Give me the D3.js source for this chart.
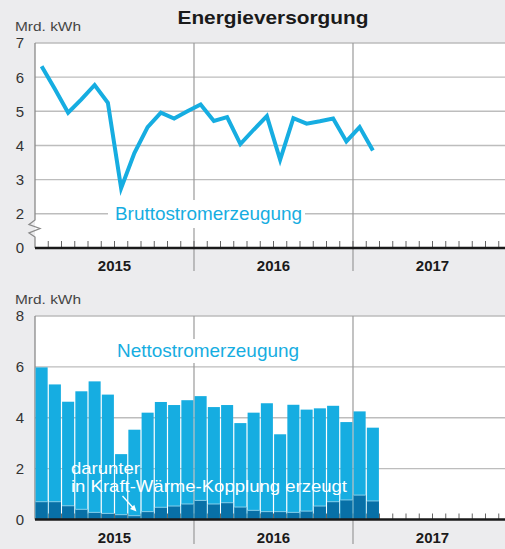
<!DOCTYPE html>
<html>
<head>
<meta charset="utf-8">
<script src="https://cdn.jsdelivr.net/npm/d3@7"></script>
<style>
  html, body { margin: 0; padding: 0; background: #ececee; }
  svg { display: block; font-family: "Liberation Sans", Arial, Helvetica, sans-serif; }
</style>
</head>
<body>
<svg id="chart" width="505" height="549"></svg>
<script>
// Monthly values, January 2015 onwards (Mrd. kWh)
const years = ["2015", "2016", "2017"];
const brutto = [6.32, 5.65, 4.96, 5.35, 5.77, 5.25, 2.75, 3.78, 4.54, 4.96, 4.79, 5.0, 5.20,
                4.72, 4.83, 4.04, 4.46, 4.86, 3.58, 4.80, 4.64, 4.71, 4.79, 4.12, 4.54, 3.85];
const netto = [5.98, 5.31, 4.63, 5.04, 5.43, 4.91, 2.57, 3.53, 4.20, 4.62, 4.50, 4.69, 4.85,
               4.42, 4.50, 3.79, 4.20, 4.57, 3.35, 4.51, 4.32, 4.37, 4.47, 3.83, 4.25, 3.61];
const kwk = [0.70, 0.70, 0.54, 0.40, 0.28, 0.24, 0.19, 0.15, 0.31, 0.48, 0.53, 0.61, 0.75,
             0.61, 0.66, 0.49, 0.36, 0.31, 0.31, 0.28, 0.33, 0.53, 0.70, 0.77, 0.96, 0.73];
const topTicks = [0, 2, 3, 4, 5, 6, 7];
const bottomTicks = [0, 2, 4, 6, 8];

const svg = d3.select("#chart");
const LIGHT = "#16ade1", DARK = "#0870a7", GRID = "#bdbdbd", YEARLINE = "#9a9a9a";
const left = 35, monthW = 13.25;
const x = d3.scaleLinear().domain([0, 36]).range([left, left + 36 * monthW]);
const W = 505;

// Title
svg.append("text").attr("x", 273).attr("y", 24).attr("text-anchor", "middle")
  .attr("font-size", 19).attr("font-weight", "bold").attr("fill", "#1a1a1a")
  .attr("textLength", 191).attr("lengthAdjust", "spacingAndGlyphs")
  .text("Energieversorgung");

function panel(cfg) {
  const g = svg.append("g");
  const y = cfg.y;
  const top = y.range()[y.range().length - 1];
  const base = y.range()[0];
  // plot background
  g.append("rect").attr("x", left).attr("y", top).attr("width", W - left).attr("height", base - top).attr("fill", "#fff");
  // unit label
  g.append("text").attr("x", 15).attr("y", cfg.unitY).attr("font-size", 12.5).attr("fill", "#444")
    .attr("textLength", 66).attr("lengthAdjust", "spacingAndGlyphs").text("Mrd. kWh");
  // grid
  cfg.ticks.forEach(t => {
    if (t === 0) return;
    g.append("line").attr("x1", left).attr("x2", W).attr("y1", y(t)).attr("y2", y(t))
      .attr("stroke", GRID).attr("stroke-width", 1.4);
  });
  // year separators
  [12, 24].forEach(m => {
    g.append("line").attr("x1", x(m)).attr("x2", x(m)).attr("y1", top).attr("y2", cfg.yearLineEnd)
      .attr("stroke", YEARLINE).attr("stroke-width", 1.2);
  });
  // tick labels
  cfg.ticks.forEach(t => {
    g.append("text").attr("x", 24).attr("y", y(t)).attr("dy", "0.36em").attr("text-anchor", "end")
      .attr("font-size", 15).attr("fill", "#333").text(t);
  });
  // year labels
  years.forEach((yr, i) => {
    g.append("text").attr("x", x(i * 12 + 6)).attr("y", cfg.yearLabelY).attr("text-anchor", "middle")
      .attr("font-size", 15).attr("font-weight", "bold").attr("fill", "#1a1a1a").text(yr);
  });
  return g;
}

// ---------- Upper panel: Bruttostromerzeugung ----------
const yTop = d3.scaleLinear().domain([0, 2, 7]).range([248, 213.8, 43]);
const gTop = panel({ y: yTop, ticks: topTicks, yearLineEnd: 271, yearLabelY: 271, unitY: 31 });

// label with white box
gTop.append("rect").attr("x", 108).attr("y", 200).attr("width", 197).attr("height", 28).attr("fill", "#fff");
gTop.append("text").attr("x", 115).attr("y", 220).attr("font-size", 18.5).attr("fill", LIGHT)
  .attr("textLength", 187).attr("lengthAdjust", "spacingAndGlyphs").text("Bruttostromerzeugung");

// left axis with break
gTop.append("path")
  .attr("d", `M${left},${yTop(7)} L${left},${220} L29,224.5 L40,228.5 L29,233 L${left},237 L${left},${yTop(0)}`)
  .attr("fill", "none").attr("stroke", "#8a8a8a").attr("stroke-width", 1.3);

// month ticks
d3.range(1, 37).forEach(m => {
  gTop.append("line").attr("x1", x(m)).attr("x2", x(m)).attr("y1", yTop(0)).attr("y2", yTop(0) - 7)
    .attr("stroke", "#666").attr("stroke-width", 1);
});
gTop.append("line").attr("x1", left).attr("x2", W).attr("y1", yTop(0)).attr("y2", yTop(0))
  .attr("stroke", "#1a1a1a").attr("stroke-width", 2.5);

// series line
gTop.append("path").datum(brutto)
  .attr("d", d3.line().x((d, i) => x(i + 0.5)).y(d => yTop(d)))
  .attr("fill", "none").attr("stroke", LIGHT).attr("stroke-width", 4).attr("stroke-linejoin", "miter");

// ---------- Lower panel: Nettostromerzeugung ----------
const yBot = d3.scaleLinear().domain([0, 8]).range([519.5, 316]);
const gBot = panel({ y: yBot, ticks: bottomTicks, yearLineEnd: 544, yearLabelY: 543, unitY: 304 });

gBot.append("rect").attr("x", 110).attr("y", 339).attr("width", 195).attr("height", 24).attr("fill", "#fff");
gBot.append("text").attr("x", 117).attr("y", 357).attr("font-size", 18.5).attr("fill", LIGHT)
  .attr("textLength", 182).attr("lengthAdjust", "spacingAndGlyphs").text("Nettostromerzeugung");

gBot.append("line").attr("x1", left).attr("x2", left).attr("y1", yBot(8)).attr("y2", yBot(0))
  .attr("stroke", "#8a8a8a").attr("stroke-width", 1.3);

d3.range(1, 37).forEach(m => {
  gBot.append("line").attr("x1", x(m)).attr("x2", x(m)).attr("y1", yBot(0)).attr("y2", yBot(0) - 6)
    .attr("stroke", "#666").attr("stroke-width", 1);
});

// total bars
gBot.selectAll("rect.total").data(netto).join("rect").attr("class", "total")
  .attr("x", (d, i) => x(i) + 0.6).attr("width", monthW - 1.2)
  .attr("y", d => yBot(d)).attr("height", d => yBot(0) - yBot(d))
  .attr("fill", LIGHT);
// CHP share
gBot.selectAll("rect.kwk").data(kwk).join("rect").attr("class", "kwk")
  .attr("x", (d, i) => x(i) + 0.6).attr("width", monthW - 1.2)
  .attr("y", d => yBot(d)).attr("height", d => yBot(0) - yBot(d))
  .attr("fill", DARK);
gBot.selectAll("line.kwkTop").data(kwk).join("line").attr("class", "kwkTop")
  .attr("x1", (d, i) => x(i) + 0.6).attr("x2", (d, i) => x(i + 1) - 0.6)
  .attr("y1", d => yBot(d)).attr("y2", d => yBot(d))
  .attr("stroke", "#86d0ec").attr("stroke-width", 1);

gBot.append("line").attr("x1", left).attr("x2", W).attr("y1", yBot(0)).attr("y2", yBot(0))
  .attr("stroke", "#1a1a1a").attr("stroke-width", 2.5);

// annotation
gBot.append("text").attr("x", 71).attr("y", 474).attr("font-size", 17).attr("fill", "#fff")
  .attr("textLength", 69).attr("lengthAdjust", "spacingAndGlyphs").text("darunter");
gBot.append("text").attr("x", 71).attr("y", 491.5).attr("font-size", 17).attr("fill", "#fff")
  .attr("textLength", 276).attr("lengthAdjust", "spacingAndGlyphs").text("in Kraft-Wärme-Kopplung erzeugt");
const ax0 = [122.5, 496], ax1 = [136.5, 511.5];
gBot.append("line").attr("x1", ax0[0]).attr("y1", ax0[1]).attr("x2", ax1[0] - 2.5).attr("y2", ax1[1] - 2.8)
  .attr("stroke", "#fff").attr("stroke-width", 1.3);
gBot.append("path").attr("d", `M${ax1[0]},${ax1[1]} L${ax1[0] - 6.5},${ax1[1] - 2.5} L${ax1[0] - 2.2},${ax1[1] - 6.8} Z`)
  .attr("fill", "#fff");
</script>
</body>
</html>
